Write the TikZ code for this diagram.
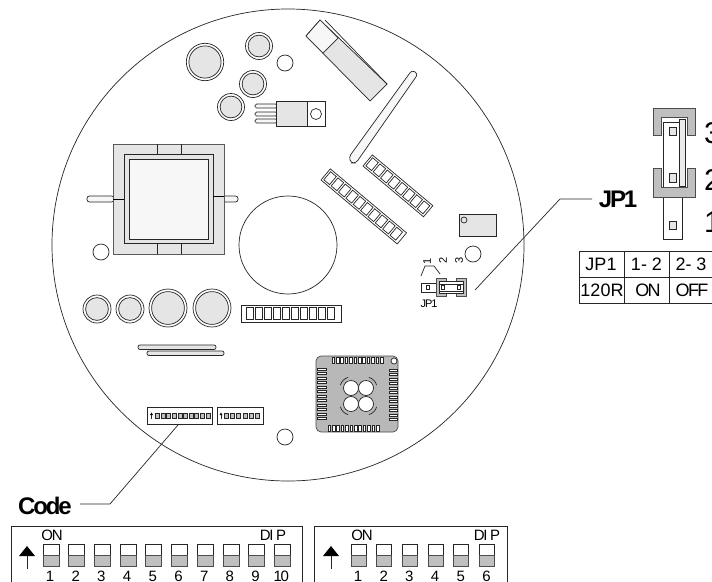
\documentclass[tikz,border=0pt]{standalone}
\usepackage{fontspec}
\setmainfont{Liberation Sans}
\newfontfamily\tightfont[LetterSpace=-9]{Liberation Sans}
\usetikzlibrary{calc, positioning, arrows.meta}
\tikzset{
  part/.style={draw=black!85, line width=0.7pt, fill=black!10},
  plain/.style={draw=black!85, line width=0.7pt},
  darkpart/.style={draw=black!70, line width=0.7pt, fill=black!25},
  lightpart/.style={draw=black!85, line width=0.7pt, fill=black!3},
  leader/.style={draw=black!85, line width=0.7pt},
  biglabel/.style={font=\tightfont\fontsize{24}{24}\selectfont\bfseries, inner sep=0pt},
  cell/.style={font=\fontsize{18}{18}\selectfont, inner sep=0pt},
  tightcell/.style={font=\tightfont\fontsize{18}{18}\selectfont, inner sep=0pt},
  switchlabel/.style={font=\tightfont\fontsize{15}{15}\selectfont, inner sep=0pt},
  pinlabel/.style={font=\fontsize{30}{30}\selectfont, inner sep=0pt}
}
\newcommand{\capacitor}[3]{%
  \draw[plain, fill=white] (#1,#2) circle (#3);
  \draw[part] (#1,#2) circle ({#3-2.6});
}
\newcommand{\hole}[2]{\draw[plain, fill=white] (#1,#2) circle (8);}
\begin{document}
\begin{tikzpicture}[x=1pt, y=-1pt, >=Stealth]
  \clip (0,0) rectangle (712,581);
  \fill[white] (0,0) rectangle (712,581);

  % Board outline and the big cut-out
  \draw[plain] (288,245) circle (236);
  \draw[plain] (288,245) circle (49);

  % Capacitors and mounting holes
  \capacitor{205}{62}{18.7}
  \capacitor{259}{46}{13.5}
  \capacitor{253}{84}{13.5}
  \capacitor{231}{107}{13.5}
  \capacitor{97}{309}{14}
  \capacitor{130}{309}{14}
  \capacitor{168}{308}{19}
  \capacitor{212}{308}{19}
  \hole{285}{63}
  \hole{101}{252}
  \hole{473}{254}
  \hole{285}{437}

  % Regulator
  \foreach \y in {106,114,121}
    \draw[lightpart, rounded corners=1.5pt] (255,\y-2) rectangle (277,\y+2);
  \draw[part] (276,101) rectangle (307,126);
  \draw[plain, fill=white] (307,101) rectangle (325,126);
  \draw[plain] (316,114) circle (5.5);

  % Slanted part at the top
  \draw[part] (306,36) -- (320,20) -- (387,84) -- (370,101) -- cycle;
  \draw[lightpart] (306,36) -- (320,20) -- (338,38) -- (323,53) -- cycle;
  \draw[plain] (325,20) -- (387,84);

  % Slot
  \draw[lightpart, rounded corners=3pt] (349,157) -- (412,70) -- (418,74) -- (356,163) -- (351,163) -- cycle;

  % Transformer
  \draw[lightpart, rounded corners=2.5pt] (87,196) rectangle (114,202);
  \draw[lightpart, rounded corners=2.5pt] (223,196) rectangle (238,202);
  \draw[part, draw=black!65, line width=1pt] (113,144) rectangle (224,254);
  \draw[part, draw=black!85] (124,154) rectangle (213,243);
  \draw[lightpart, line width=1pt] (129,159) rectangle (208,239);
  \foreach \x in {157,181} {
    \draw[plain] (\x,144) -- (\x,154);
    \draw[plain] (\x,243) -- (\x,254);
  }
  \draw[line width=1pt] (113,199) -- (124,199);
  \draw[line width=1pt] (213,196) -- (224,196);

  % Resistor packs
  \begin{scope}[shift={(321,180)}, rotate=-40]
    \draw[plain, fill=white] (0,0) rectangle (99.5,-14.5);
    \foreach \i in {0,...,9}
      \draw[plain] ({2+\i*9.6},-2) rectangle ({9.5+\i*9.6},-12.5);
  \end{scope}
  \begin{scope}[shift={(363,166)}, rotate=-40]
    \draw[plain, fill=white] (0,0) rectangle (79,-14.5);
    \foreach \i in {0,...,7}
      \draw[plain] ({2+\i*9.6},-2) rectangle ({9.5+\i*9.6},-12.5);
  \end{scope}

  % Relay
  \draw[part] (459,214) rectangle (496,236);
  \draw[plain] (464,220) circle (3);

  % Small jumper on the board
  \draw[plain] (421,283) rectangle (436,292);
  \draw[plain] (426,285.5) rectangle (429,289);
  \draw[darkpart] (436,278) rectangle (446,296);
  \draw[darkpart] (456,278) rectangle (466,296);
  \draw[plain, fill=white] (439,281) rectangle (463,293);
  \draw[plain] (439,284) rectangle (463,291);
  \draw[plain] (441,285.5) rectangle (444,289);
  \draw[plain] (457,285.5) rectangle (460,289);
  \node[rotate=90, inner sep=0pt, font=\fontsize{11}{11}\selectfont] (pinone) at (427,261) {1};
  \node[rotate=90, inner sep=0pt, font=\fontsize{11}{11}\selectfont] (pintwo) at (443,260) {2};
  \node[rotate=90, inner sep=0pt, font=\fontsize{11}{11}\selectfont] (pinthree) at (459,260) {3};
  \draw[plain] (421,276) -- (425,266) -- (434,266) -- (440,274);
  \node[inner sep=0pt, font=\tightfont\fontsize{11}{11}\selectfont] (jpsmall) at (429,304) {JP1};

  % Strip above the controller
  \draw[plain, fill=white] (241,305) rectangle (341,322);
  \foreach \i in {0,...,9}
    \draw[plain] ({246+\i*9},307) rectangle ({253+\i*9},319);

  % Two long bars
  \draw[part, rounded corners=2pt] (138,345) rectangle (216,349.5);
  \draw[part, rounded corners=2pt] (147,351) rectangle (224,355.5);

  % Controller
  \draw[draw=black!70, line width=0.7pt, fill=black!28, rounded corners=5pt] (316,356) rectangle (398,432);
  \draw[plain, fill=white] (394,361) circle (3);
  \foreach \i in {0,...,11} {
    \draw[plain, fill=white] ({332+\i*4.4},357) rectangle ({334.5+\i*4.4},363);
    \draw[plain, fill=white] ({328+\i*4.4},425) rectangle ({330.5+\i*4.4},431.5);
    \draw[plain, fill=white] (317,{368+\i*4.5}) rectangle (326,{370+\i*4.5});
    \draw[plain, fill=white] (389,{369+\i*4.5}) rectangle (397,{371+\i*4.5});
  }
  \foreach \x/\y/\a in {351/388/135, 366/388/45, 351/404/225, 366/404/315} {
    \draw[plain, fill=white] (\x,\y) circle (7.5);
    \draw[plain] ($(\x,\y)+({cos(\a-30)*11},{-sin(\a-30)*11})$) arc[start angle=-\a+30, end angle=-\a-30, radius=11];
  }

  % DIP switches on the board
  \draw[plain, fill=white] (147,407) rectangle (212,424);
  \draw[plain, fill=white] (217,407) rectangle (263,424);
  \foreach \i in {0,...,9}
    \draw[plain, fill=black!25] ({155.5+\i*5.6},413) rectangle ({159.5+\i*5.6},418);
  \foreach \i in {0,...,5}
    \draw[plain, fill=black!25] ({224+\i*6.3},413) rectangle ({228+\i*6.3},418);
  \fill[black] (150,415) -- (151.5,412.5) -- (153,415) -- cycle;
  \draw[plain] (151.5,415) -- (151.5,419);
  \fill[black] (219.5,415) -- (221,412.5) -- (222.5,415) -- cycle;
  \draw[plain] (221,415) -- (221,419);

  % Labels with leaders
  \node[biglabel] (jplabel) at (618,199) {JP1};
  \coordinate (jpA) at (475,290);
  \coordinate (jpB) at (560,199);
  \coordinate (jpC) at (592,199);
  \draw[leader] (jpA) -- (jpB) -- (jpC);
  \node[biglabel] (codelabel) at (45,506) {Code};
  \coordinate (codeA) at (178,425);
  \coordinate (codeB) at (110,504);
  \coordinate (codeC) at (80,504);
  \draw[leader] (codeA) -- (codeB) -- (codeC);

  % Large jumper
  \draw[plain, fill=white] (663,197) rectangle (682,239);
  \draw[part] (669,221) rectangle (676,229);
  \draw[darkpart] (653,135) |- (695,108) |- (687,135) |- (661,117) -- (661,135) -- cycle;
  \draw[plain, fill=white] (663,122) rectangle (685,187);
  \draw[part] (669,127) rectangle (676,135);
  \draw[part] (669,173) rectangle (676,182);
  \draw[lightpart, fill=black!8] (679,119) rectangle (685,186);
  \draw[darkpart] (653,168) -- (653,197) -- (695,197) -- (695,168) -- (687,168) -- (687,187) -- (661,187) -- (661,168) -- cycle;
  \node[pinlabel, anchor=west] (three) at (704,133) {3};
  \node[pinlabel, anchor=west] (two) at (704,180) {2};
  \node[pinlabel, anchor=west] (one) at (704,222) {1};

  % Table
  \draw[plain] (579,251) rectangle (720,303);
  \draw[plain] (579,277) -- (720,277);
  \draw[plain] (624,251) -- (624,303);
  \draw[plain] (669,251) -- (669,303);
  \node[cell] (cA) at (601,264) {JP1};
  \node[cell] (cB) at (646.5,264) {1- 2};
  \node[cell] (cC) at (691,264) {2- 3};
  \node[cell] (cD) at (602,290) {120R};
  \node[tightcell] (cE) at (648,290) {ON};
  \node[tightcell] (cF) at (692,290) {OFF};

  % Large DIP switches
  \draw[plain] (11,590) |- (302,526) -- (302,590);
  \draw[plain] (314,590) |- (507,526) -- (507,590);
  \foreach \i in {1,...,10} {
    \draw[plain, fill=white] ({43+(\i-1)*25.7},544) rectangle ({59+(\i-1)*25.7},555);
    \draw[darkpart] ({43+(\i-1)*25.7},555) rectangle ({59+(\i-1)*25.7},566.5);
    \node[switchlabel] (numA\i) at ({50+(\i-1)*25.7},576) {\i};
  }
  \foreach \i in {1,...,6} {
    \draw[plain, fill=white] ({351+(\i-1)*25.7},544) rectangle ({366+(\i-1)*25.7},555);
    \draw[darkpart] ({351+(\i-1)*25.7},555) rectangle ({366+(\i-1)*25.7},566.5);
    \node[switchlabel] (numB\i) at ({358+(\i-1)*25.7},576) {\i};
  }
  \node[switchlabel] (onA) at (52,535) {ON};
  \node[switchlabel] (dipLabelA) at (273,535) {DI P};
  \node[switchlabel] (onB) at (362,535) {ON};
  \node[switchlabel] (dipLabelB) at (487,535) {DI P};
  \foreach \x in {27,331} {
    \fill[black] (\x-8,556) -- (\x,546) -- (\x+8,556) -- cycle;
    \draw[plain] (\x,556) -- (\x,569);
  }
\end{tikzpicture}
\end{document}
